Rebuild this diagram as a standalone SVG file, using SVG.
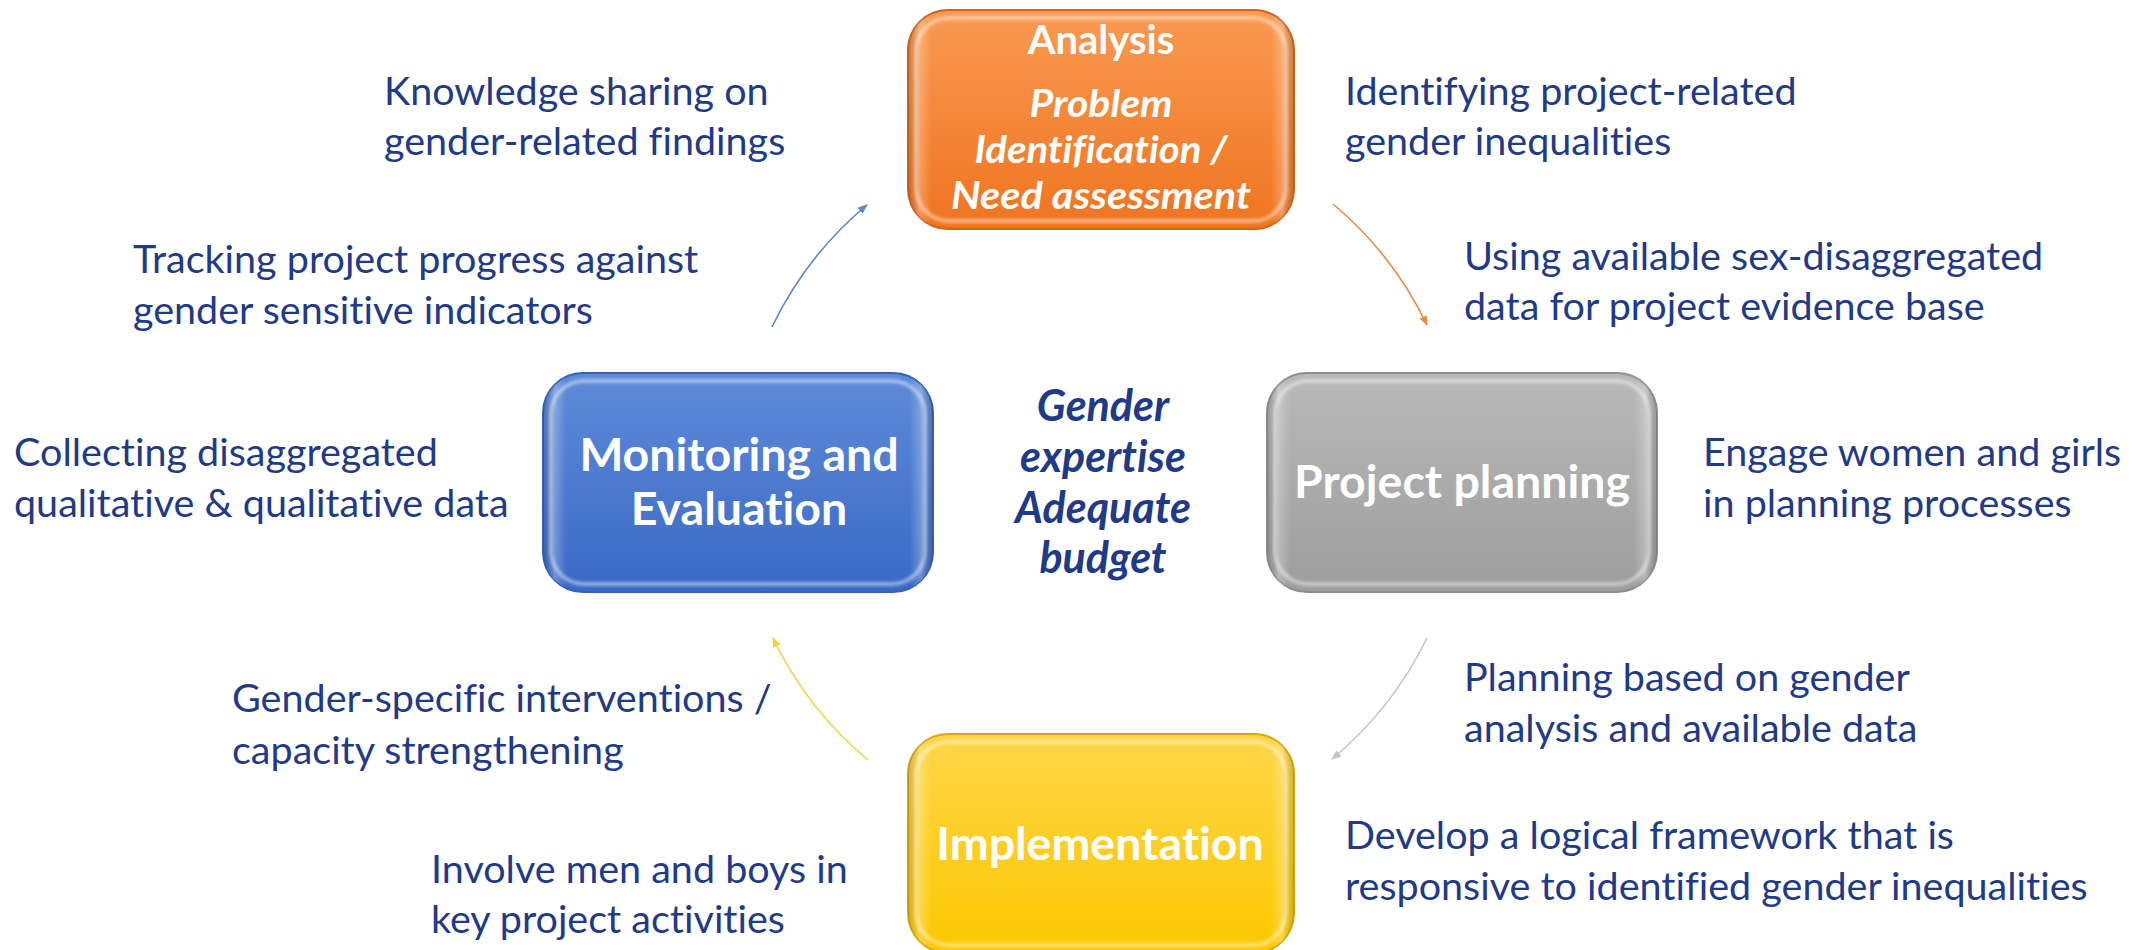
<svg xmlns="http://www.w3.org/2000/svg" width="2140" height="950" viewBox="0 0 2140 950">
  <defs>
    <style>
      text { font-family: Lato, "Liberation Sans", sans-serif; font-variant-ligatures: none; font-feature-settings: "liga" 0, "clig" 0; }
      .note { font-size: 39.5px; fill: #1f3a88; }
      .centre { font-size: 43px; font-weight: bold; font-style: italic; fill: #1f3a88; text-anchor: middle; }
      .title { font-size: 46.5px; font-weight: bold; fill: #ffffff; text-anchor: middle; }
      .sub { font-size: 38px; font-weight: bold; font-style: italic; fill: #ffffff; text-anchor: middle; }
      .hl { fill: none; stroke: #ffffff; stroke-width: 4; stroke-opacity: 0.45; filter: url(#soft); }
      .arc { fill: none; stroke-width: 1.6; }
    </style>
    <filter id="soft" x="-5%" y="-5%" width="110%" height="110%">
      <feGaussianBlur stdDeviation="1.5"/>
    </filter>
    <linearGradient id="gOrange" x1="0" y1="0" x2="0" y2="1">
      <stop offset="0" stop-color="#fa9a52"/>
      <stop offset="1" stop-color="#ef7420"/>
    </linearGradient>
    <linearGradient id="gGrey" x1="0" y1="0" x2="0" y2="1">
      <stop offset="0" stop-color="#b9b9b9"/>
      <stop offset="1" stop-color="#9d9d9d"/>
    </linearGradient>
    <linearGradient id="gBlue" x1="0" y1="0" x2="0" y2="1">
      <stop offset="0" stop-color="#5e8bd8"/>
      <stop offset="1" stop-color="#3a69c6"/>
    </linearGradient>
    <linearGradient id="gYellow" x1="0" y1="0" x2="0" y2="1">
      <stop offset="0" stop-color="#fed548"/>
      <stop offset="1" stop-color="#fcc800"/>
    </linearGradient>
    <!-- subtle edge shading for the bevelled look -->
    <linearGradient id="gEdge" x1="0" y1="0" x2="1" y2="0">
      <stop offset="0" stop-color="#000" stop-opacity="0.12"/>
      <stop offset="0.03" stop-color="#fff" stop-opacity="0.25"/>
      <stop offset="0.06" stop-color="#fff" stop-opacity="0"/>
      <stop offset="0.94" stop-color="#fff" stop-opacity="0"/>
      <stop offset="0.97" stop-color="#fff" stop-opacity="0.25"/>
      <stop offset="1" stop-color="#000" stop-opacity="0.12"/>
    </linearGradient>
    <marker id="mOrange" markerUnits="userSpaceOnUse" markerWidth="12" markerHeight="10" refX="9" refY="4" orient="auto">
      <path d="M0,0 L10,4 L0,8 Z" fill="#f08a40"/>
    </marker>
    <marker id="mGrey" markerUnits="userSpaceOnUse" markerWidth="12" markerHeight="10" refX="9" refY="4" orient="auto">
      <path d="M0,0 L10,4 L0,8 Z" fill="#c4c4c4"/>
    </marker>
    <marker id="mYellow" markerUnits="userSpaceOnUse" markerWidth="12" markerHeight="10" refX="9" refY="4" orient="auto">
      <path d="M0,0 L10,4 L0,8 Z" fill="#f3d23c"/>
    </marker>
    <marker id="mBlue" markerUnits="userSpaceOnUse" markerWidth="12" markerHeight="10" refX="9" refY="4" orient="auto">
      <path d="M0,0 L10,4 L0,8 Z" fill="#5f86c6"/>
    </marker>
  </defs>

  <rect width="2140" height="950" fill="#ffffff"/>

  <!-- cycle arrows: arcs of one circle round the centre -->
  <g id="connectors">
    <path class="arc" d="M1333,204 A363,363 0 0 1 1427,325" stroke="#f08a40" marker-end="url(#mOrange)"/>
    <path class="arc" d="M1427,638 A363,363 0 0 1 1332,759" stroke="#c4c4c4" marker-end="url(#mGrey)"/>
    <path class="arc" d="M868,760 A363,363 0 0 1 773,638" stroke="#f3d23c" marker-end="url(#mYellow)"/>
    <path class="arc" d="M772,327 A363,363 0 0 1 867,205" stroke="#5f86c6" marker-end="url(#mBlue)"/>
  </g>

  <g id="analysis">
    <rect x="908" y="10" width="386" height="219" rx="40" fill="url(#gOrange)" stroke="#cf651c" stroke-width="2"/>
    <rect x="908" y="10" width="386" height="219" rx="40" fill="url(#gEdge)"/>
    <rect class="hl" x="916" y="18" width="370" height="203" rx="33"/>
    <text class="title" x="1101" y="54" style="font-size:40px">Analysis</text>
    <text class="sub" x="1101" y="117" textLength="143" lengthAdjust="spacingAndGlyphs">Problem</text>
    <text class="sub" x="1101" y="163" textLength="253" lengthAdjust="spacingAndGlyphs">Identification /</text>
    <text class="sub" x="1101" y="209" textLength="300" lengthAdjust="spacingAndGlyphs">Need assessment</text>
  </g>

  <g id="project-planning">
    <rect x="1267" y="373" width="390" height="219" rx="40" fill="url(#gGrey)" stroke="#8e8e8e" stroke-width="2"/>
    <rect x="1267" y="373" width="390" height="219" rx="40" fill="url(#gEdge)"/>
    <rect class="hl" x="1275" y="381" width="374" height="203" rx="33"/>
    <text class="title" x="1462" y="498">Project planning</text>
  </g>

  <g id="monitoring-evaluation">
    <rect x="543" y="373" width="390" height="219" rx="40" fill="url(#gBlue)" stroke="#3462b4" stroke-width="2"/>
    <rect x="543" y="373" width="390" height="219" rx="40" fill="url(#gEdge)"/>
    <rect class="hl" x="551" y="381" width="374" height="203" rx="33"/>
    <text class="title" x="739" y="471">Monitoring and</text>
    <text class="title" x="739" y="525">Evaluation</text>
  </g>

  <g id="implementation">
    <rect x="908" y="734" width="386" height="219" rx="40" fill="url(#gYellow)" stroke="#d9a80e" stroke-width="2"/>
    <rect x="908" y="734" width="386" height="219" rx="40" fill="url(#gEdge)"/>
    <rect class="hl" x="916" y="742" width="370" height="203" rx="33"/>
    <text class="title" x="1100" y="860">Implementation</text>
  </g>

  <g id="centre-note">
    <text class="centre" x="1103" y="421">Gender</text>
    <text class="centre" x="1103" y="472">expertise</text>
    <text class="centre" x="1103" y="523">Adequate</text>
    <text class="centre" x="1103" y="573">budget</text>
  </g>

  <g id="notes">
    <text class="note" x="384" y="105">Knowledge sharing on</text>
    <text class="note" x="384" y="155">gender-related findings</text>

    <text class="note" x="1345" y="105">Identifying project-related</text>
    <text class="note" x="1345" y="155">gender inequalities</text>

    <text class="note" x="133" y="273">Tracking project progress against</text>
    <text class="note" x="133" y="324">gender sensitive indicators</text>

    <text class="note" x="1464" y="270">Using available sex-disaggregated</text>
    <text class="note" x="1464" y="320">data for project evidence base</text>

    <text class="note" x="14" y="466">Collecting disaggregated</text>
    <text class="note" x="14" y="517">qualitative &amp; qualitative data</text>

    <text class="note" x="1703" y="466">Engage women and girls</text>
    <text class="note" x="1703" y="517">in planning processes</text>

    <text class="note" x="232" y="712">Gender-specific interventions /</text>
    <text class="note" x="232" y="764">capacity strengthening</text>

    <text class="note" x="1464" y="691">Planning based on gender</text>
    <text class="note" x="1464" y="742">analysis and available data</text>

    <text class="note" x="431" y="883">Involve men and boys in</text>
    <text class="note" x="431" y="933">key project activities</text>

    <text class="note" x="1345" y="849">Develop a logical framework that is</text>
    <text class="note" x="1345" y="900">responsive to identified gender inequalities</text>
  </g>
</svg>
